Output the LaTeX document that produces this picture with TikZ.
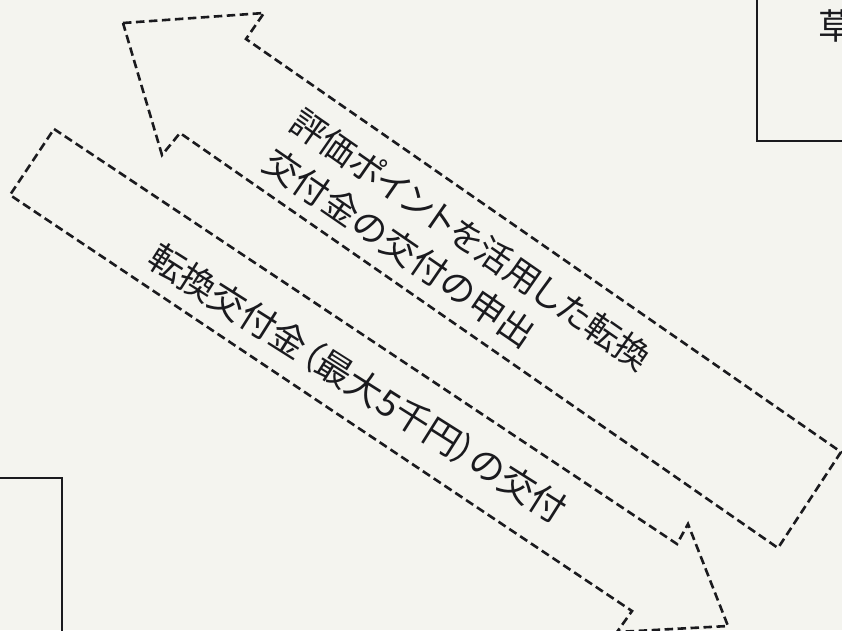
\documentclass[tikz,border=0pt]{standalone}
\usepackage{fontspec}
\newfontfamily\jpfont{Noto Sans CJK JP}
\newfontfamily\jppalt[RawFeature=+palt]{Noto Sans CJK JP}
\definecolor{paper}{RGB}{244,244,239}
\definecolor{ink}{RGB}{26,26,30}
\begin{document}
\begin{tikzpicture}[x=1pt, y=-1pt, thick,
    arrowline/.style={draw=ink, line width=2.6pt, dash pattern=on 8.5pt off 4.5pt},
    boxline/.style={draw=ink, line width=2.8pt},
    arrowtext/.style={text=ink, font=\jpfont\fontsize{35.5}{40}\selectfont, inner sep=0pt},
    palttext/.style={arrowtext, font=\jppalt\fontsize{36}{40}\selectfont}]
  % 1. 背景と範囲
  \useasboundingbox (0,0) rectangle (842,630);
  \fill[paper] (0,0) rectangle (842,630);
  \clip (0,0) rectangle (842,630);

  % 2. 枠 (右上・左下)
  \draw[boxline] (757,-10) -- (757,141) -- (860,141);
  \node[arrowtext, anchor=west] (kusa) at (818,26) {草};
  \draw[boxline] (-10,478) -- (62,478) -- (62,640);

  % 3. 上の矢印 (申出)
  \draw[arrowline] (123,23) -- (264,13) -- (246,39) -- (841,452) -- (778,548)
    -- (180,133) -- (162,155) -- cycle;

  % 4. 下の矢印 (交付)
  \draw[arrowline] (54,129) -- (677,544) -- (688,524) -- (728,626) -- (617,632)
    -- (632,611) -- (10,195) -- cycle;

  % 5. 矢印の文字
  \node[palttext, anchor=west, rotate=-34.8, font=\jppalt\fontsize{35}{40}\selectfont] (moushide1) at (295,117) {評価ポイントを活用した転換};
  \node[arrowtext, anchor=west, rotate=-34.5] (moushide2) at (268,157) {交付金の交付の申出};
  \node[palttext, anchor=west, rotate=-32.3] (koufu) at (152,253) {転換交付金（最大5千円）の交付};
\end{tikzpicture}
\end{document}
